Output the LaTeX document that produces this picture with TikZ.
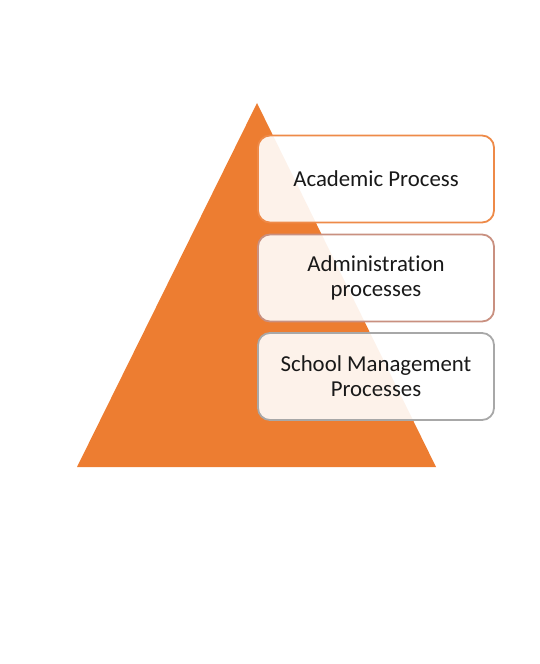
\documentclass[tikz,border=0pt]{standalone}
\usepackage{fontspec}
\setmainfont{Carlito}[Ligatures=NoCommon]
\definecolor{tri}{HTML}{ED7D31}
\definecolor{bA}{HTML}{EE8A48}
\definecolor{bB}{HTML}{C99080}
\definecolor{bC}{HTML}{A8A8A8}
\begin{document}
\begin{tikzpicture}[x=1bp,y=-1bp,
  lvl/.style={draw, line width=1.8bp, rounded corners=12bp, fill=white, fill opacity=0.9, text opacity=1,
    minimum width=236bp, minimum height=87bp, align=center, inner sep=0pt,
    font=\fontsize{22.8bp}{25bp}\selectfont, text=black!90}]
\useasboundingbox (0,0) rectangle (540,664);
\fill[tri] (257,103) -- (436,467) -- (77,467) -- cycle;
\node[lvl, draw=bA] (a) at (376,179) {Academic Process};
\node[lvl, draw=bB] (b) at (376,278) {Administration\\processes};
\node[lvl, draw=bC] (c) at (376,376.5) {School Management\\Processes};
\end{tikzpicture}
\end{document}
